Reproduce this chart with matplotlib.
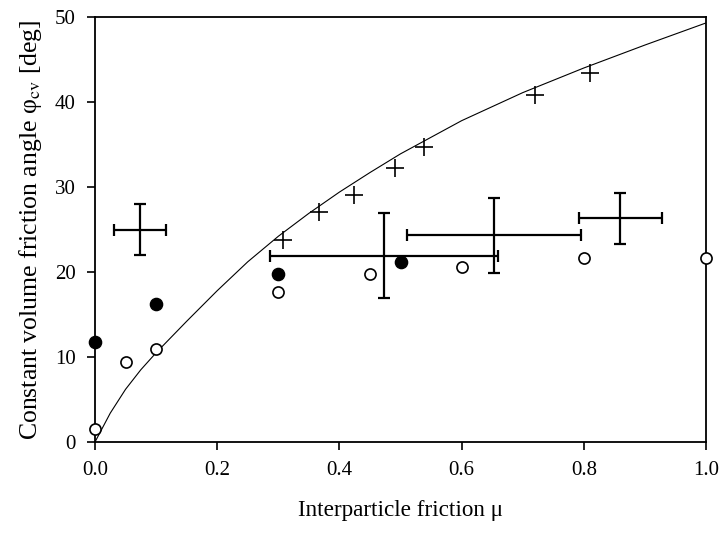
import matplotlib
matplotlib.use("Agg")
import matplotlib.pyplot as plt

plt.rcParams['font.family'] = ['Liberation Serif', 'DejaVu Serif']
plt.rcParams['mathtext.fontset'] = 'stix'

# Theoretical curve
curve_mu = [0.0, 0.025, 0.05, 0.075, 0.1, 0.15, 0.2, 0.25, 0.3, 0.35, 0.4, 0.45,
            0.5, 0.6, 0.7, 0.8, 0.9, 1.0]
curve_phi = [0.0, 3.4, 6.2, 8.5, 10.5, 14.2, 17.8, 21.2, 24.2, 26.9, 29.4, 31.7,
             33.9, 37.8, 41.1, 44.0, 46.7, 49.3]

# Plus markers
plus_mu = [0.307, 0.366, 0.424, 0.491, 0.538, 0.72, 0.81]
plus_phi = [23.8, 27.1, 29.1, 32.2, 34.7, 40.8, 43.4]

# Open circles
open_mu = [0.0, 0.05, 0.1, 0.3, 0.45, 0.6, 0.8, 1.0]
open_phi = [1.5, 9.4, 10.9, 17.6, 19.8, 20.6, 21.6, 21.6]

# Filled circles
filled_mu = [0.0, 0.1, 0.3, 0.5]
filled_phi = [11.8, 16.2, 19.8, 21.2]

# Error-bar crosses
err_mu = [0.074, 0.473, 0.653, 0.86]
err_phi = [25.0, 21.9, 24.3, 26.3]
err_xerr = [0.043, 0.186, 0.143, 0.068]
err_yerr = [3.0, 5.0, 4.4, 3.0]

xticks = [0.0, 0.2, 0.4, 0.6, 0.8, 1.0]
yticks = [0, 10, 20, 30, 40, 50]

fig = plt.figure(figsize=(7.23, 5.38), dpi=100)
ax = fig.add_axes([95/723, 1 - 442/538, (706 - 95)/723, (442 - 17)/538])

ax.plot(curve_mu, curve_phi, color='black', lw=0.8, zorder=2)
ax.errorbar(err_mu, err_phi, xerr=err_xerr, yerr=err_yerr, fmt='none',
            ecolor='black', elinewidth=1.6, capsize=4.5, capthick=1.6, zorder=3)
ax.plot(plus_mu, plus_phi, linestyle='none', marker='+', markersize=12.5,
        markeredgewidth=1.2, color='black', zorder=4)
ax.plot(open_mu, open_phi, linestyle='none', marker='o', markersize=8,
        markerfacecolor='white', markeredgecolor='black', markeredgewidth=1.2,
        zorder=5, clip_on=False)
ax.plot(filled_mu, filled_phi, linestyle='none', marker='o', markersize=8.8,
        markerfacecolor='black', markeredgecolor='black', zorder=5, clip_on=False)

ax.set_xlim(0, 1.0)
ax.set_ylim(0, 50)
ax.set_xticks(xticks)
ax.set_xticklabels([f"{v:.1f}" for v in xticks])
ax.set_yticks(yticks)
ax.set_yticklabels([str(v) for v in yticks])
ax.tick_params(direction='out', length=6, width=1.2, labelsize=15, pad=8,
               top=False, right=False)
for sp in ax.spines.values():
    sp.set_linewidth(1.3)

ax.set_xlabel("Interparticle friction μ", fontsize=16.7, labelpad=14)
ax.set_ylabel("Constant volume friction angle φ$_{\\mathrm{cv}}$ [deg]", fontsize=18.5,
              labelpad=8)

fig.savefig("out.png", dpi=100)
